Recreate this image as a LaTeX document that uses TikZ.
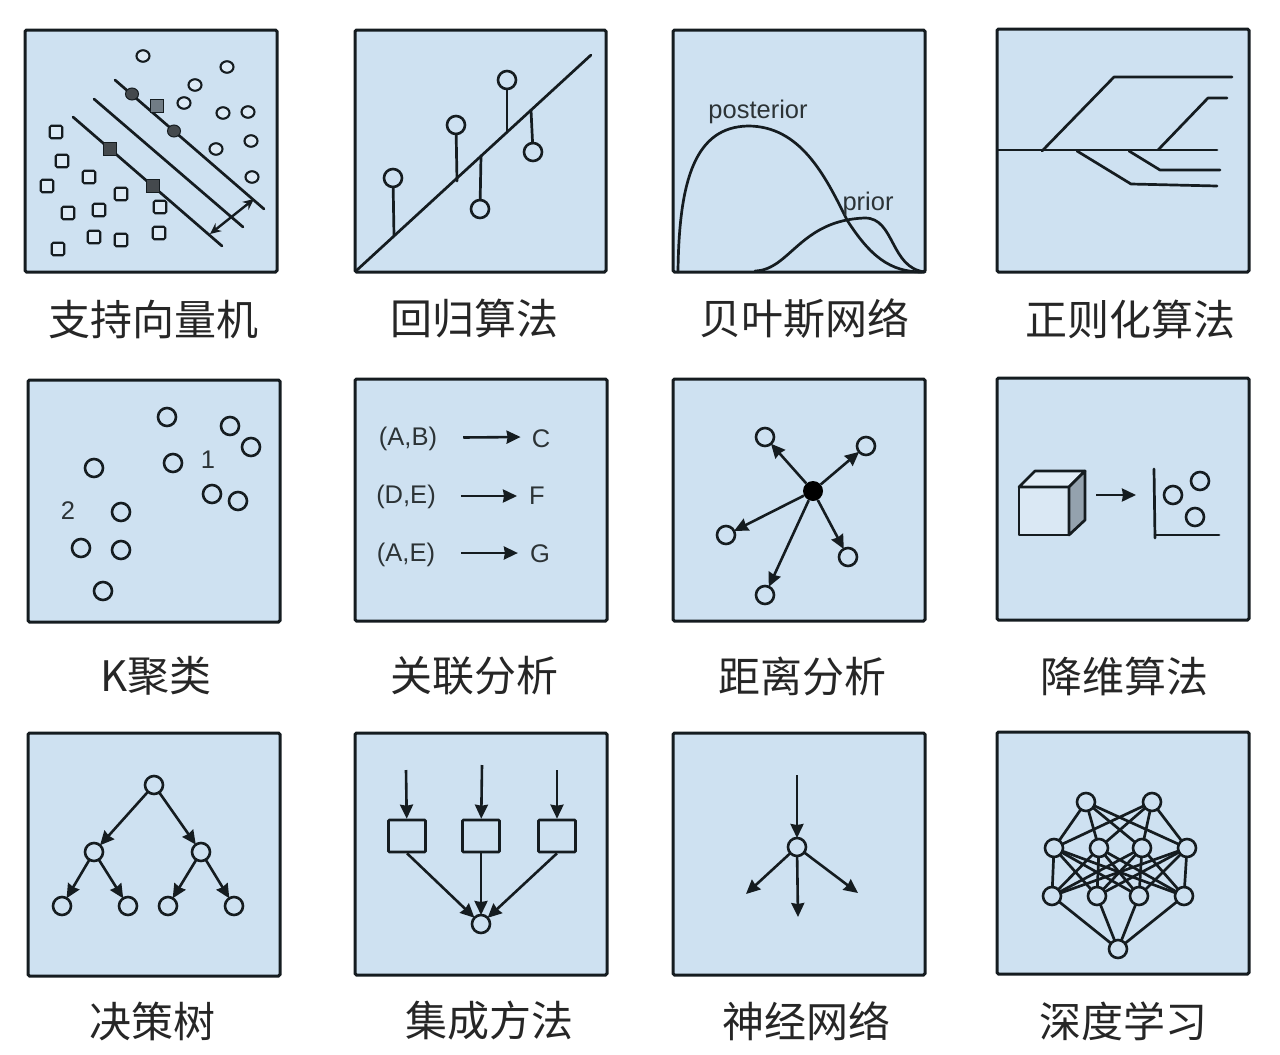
\documentclass[tikz,border=0pt]{standalone}
\usepackage{fontspec}
\setmainfont{Liberation Sans}
\newfontfamily\cjk{Noto Sans CJK SC}
\usetikzlibrary{arrows.meta,shapes.geometric}
\definecolor{pfill}{HTML}{CEE1F1}
\definecolor{ink}{HTML}{151C20}
\tikzset{
  panel/.style={draw=ink,fill=pfill,line width=3pt,rounded corners=1.5pt},
  wire/.style={draw=ink,line width=2.7pt,line cap=round,line join=round},
  arr/.style={draw=ink,line width=2.6pt,-{Stealth[length=14pt,width=13pt,inset=1pt]}},
  dot/.style={circle,draw=ink,line width=2.6pt,inner sep=0pt,minimum size=18pt,outer sep=0pt},
  svmo/.style={ellipse,draw=ink,line width=2.1pt,inner sep=0pt,minimum width=13pt,minimum height=11.5pt,fill=pfill!70!white},
  svms/.style={rectangle,rounded corners=1.5pt,draw=ink,line width=2.1pt,inner sep=0pt,minimum size=12.5pt,fill=pfill!70!white},
  svmfc/.style={ellipse,draw=ink,line width=1pt,fill=ink!80!white,inner sep=0pt,minimum width=13pt,minimum height=12pt},
  svmfs/.style={rectangle,draw=ink,line width=1pt,fill=ink!80!white,inner sep=0pt,minimum size=13pt},
  captxt/.style={inner sep=0pt,font=\cjk\fontsize{42}{46}\selectfont,text=black!85},
  lab/.style={inner sep=0pt,font=\fontsize{25.5}{28}\selectfont,text=ink!90},
  boxn/.style={rectangle,rounded corners=1pt,draw=ink,line width=2.6pt,inner sep=0pt,minimum width=37pt,minimum height=32pt},
}
\begin{document}
\begin{tikzpicture}[x=1pt,y=-1pt]
\useasboundingbox (0,0) rectangle (1280,1055);
% panels
\foreach \a/\b/\c/\d in {25/30/277/272,355/30/606/272,673/30/925/272,997/29/1249/272,
  28/380/280/622,355/379/607/621,673/379/925/621,997/378/1249/620,
  28/733/280/976,355/733/607/975,673/733/925/975,997/732/1249/974}
  \draw[panel] (\a,\b) rectangle (\c,\d);
% captions
\node[captxt] (c1) at (153,319) {支持向量机};
\node[captxt] (c2) at (474,319) {回归算法};
\node[captxt] (c3) at (804,319) {贝叶斯网络};
\node[captxt] (c4) at (1130.5,319) {正则化算法};
\node[captxt] (c5) at (156,676) {K聚类};
\node[captxt] (c6) at (474,676) {关联分析};
\node[captxt] (c7) at (802,676) {距离分析};
\node[captxt] (c8) at (1124,676) {降维算法};
\node[captxt] (c9) at (152,1021) {决策树};
\node[captxt] (c10) at (489,1021) {集成方法};
\node[captxt] (c11) at (806,1021) {神经网络};
\node[captxt] (c12) at (1123,1021) {深度学习};
% --- SVM
\draw[wire] (115,80) -- (264,209);
\draw[wire] (94,99) -- (243,227);
\draw[wire] (73,117) -- (222,246);
\draw[draw=ink,line width=2.4pt,{Stealth[length=11pt,width=10pt]}-{Stealth[length=11pt,width=10pt]}] (254,199) -- (210,234);
\foreach \x/\y [count=\i] in {143/56,227/67,195/85,184/103,223/113,248/112,251/141,216/149,252/177}
  \node[svmo] (so\i) at (\x,\y) {};
\foreach \x/\y [count=\i] in {56/132,62/161,89/177,47/186,121/194,160/207,68/213,99/210,94/237,121/240,159/233,58/249}
  \node[svms] (ss\i) at (\x,\y) {};
\node[svmfc] (sf1) at (132,94) {};
\node[svmfc] (sf2) at (174,131) {};
\node[svmfs] (sq1) at (110,149) {};
\node[svmfs] (sq2) at (153,186) {};
\node[rectangle,draw=ink,line width=1.5pt,fill=black!45!pfill,inner sep=0pt,minimum size=13pt] (sg) at (157,106) {};
% --- regression
\draw[wire] (357,270) -- (591,55);
\node[dot] (r1) at (393,178) {};
\node[dot] (r2) at (456,125) {};
\node[dot] (r3) at (507,80) {};
\node[dot] (r4) at (533,152) {};
\node[dot] (r5) at (480,209) {};
\coordinate (rp1) at (394,236);
\coordinate (rp2) at (457,181);
\coordinate (rp3) at (507,132);
\coordinate (rp4) at (531,110);
\coordinate (rp5) at (481,156);
\foreach \i in {1,...,5} \draw[wire] (r\i) -- (rp\i);
% --- bayes
\draw[wire] (678,272) .. controls (679,180) and (695,127) .. (748,126)
  .. controls (800,126) and (825,175) .. (847,220)
  .. controls (870,256) and (890,272) .. (922,272);
\draw[wire] (755,271) .. controls (790,270) and (800,220) .. (865,218)
  .. controls (895,218) and (890,268) .. (925,272);
\node[lab] (b1) at (758,112) {posterior};
\node[lab] (b2) at (868,204) {prior};
% --- regularization
\draw[wire] (998,150) -- (1217,150);
\draw[wire] (1042,151) -- (1114,77) -- (1232,77);
\draw[wire] (1158,150) -- (1208,98) -- (1227,98);
\draw[wire] (1129,151) -- (1160,170) -- (1220,170);
\draw[wire] (1077,151) -- (1131,184) -- (1217,186);
% --- k-means
\foreach \x/\y [count=\i] in {167/417,230/426,251/447,173/463,212/494,238/501,94/468,121/512,81/548,121/550,103/591}
  \node[dot] (k\i) at (\x,\y) {};
\node[lab] (k1l) at (208,460) {1};
\node[lab] (k2l) at (68,511) {2};
% --- association
\node[lab] (a1) at (408,439) {(A,B)};
\node[lab] (a2) at (406,497) {(D,E)};
\node[lab] (a3) at (406,555) {(A,E)};
\node[lab] (t1) at (541,439) {C};
\node[lab] (t2) at (537,496) {F};
\node[lab] (t3) at (540,554) {G};
\draw[arr] ([xshift=26pt,yshift=1.5pt]a1.east) -- ([xshift=-11pt,yshift=2pt]t1.west);
\draw[arr] ([xshift=25pt,yshift=1pt]a2.east) -- ([xshift=-12pt]t2.west);
\draw[arr] ([xshift=26pt,yshift=2pt]a3.east) -- ([xshift=-12pt,yshift=1pt]t3.west);
% --- distance
\node[circle,fill=black,inner sep=0pt,minimum size=20pt] (dc) at (813,491) {};
\foreach \x/\y [count=\i] in {765/437,866/446,726/535,848/557,765/595}{
  \node[dot] (d\i) at (\x,\y) {};
  \draw[arr] (dc) -- (d\i);
}
% --- dimensionality reduction
\draw[wire,fill=pfill!75!white] (1019,487) rectangle (1069,535);
\draw[wire,fill=pfill!60!white] (1019,487) -- (1035,471) -- (1085,471) -- (1069,487) -- cycle;
\draw[wire,fill=black!28!pfill] (1069,487) -- (1085,471) -- (1085,520) -- (1069,535) -- cycle;
\coordinate (ds) at (1096,495);
\coordinate (de) at (1136,495);
\draw[arr] (ds) -- (de);
\draw[wire] (1154,469) -- (1155,538);
\draw[wire] (1155,535) -- (1219,535);
\node[dot] (p1) at (1173,495) {};
\node[dot] (p2) at (1200,481) {};
\node[dot] (p3) at (1195,517) {};
% --- decision tree
\node[dot] (n0) at (154,785) {};
\node[dot] (n1) at (94,852) {};
\node[dot] (n2) at (201,852) {};
\node[dot] (n3) at (62,906) {};
\node[dot] (n4) at (128,906) {};
\node[dot] (n5) at (168,906) {};
\node[dot] (n6) at (234,906) {};
\foreach \u/\v in {n0/n1,n0/n2,n1/n3,n1/n4,n2/n5,n2/n6} \draw[arr] (\u) -- (\v);
% --- ensemble
\node[boxn] (e1) at (407,836) {};
\node[boxn] (e2) at (481,836) {};
\node[boxn] (e3) at (557,836) {};
\node[dot] (eo) at (481,924) {};
\coordinate (ei1) at (406,770);
\coordinate (ei2) at (482,765);
\coordinate (ei3) at (557,770);
\foreach \i in {1,2,3}{
  \draw[arr] (ei\i) -- (e\i);
  \draw[arr] (e\i.south) -- (eo);
}
% --- neural
\node[dot] (m) at (797,847) {};
\coordinate (m0) at (797,775);
\coordinate (m1) at (746,894);
\coordinate (m2) at (798,917);
\coordinate (m3) at (858,893);
\draw[arr] (m0) -- (m);
\foreach \i in {1,2,3} \draw[arr] (m) -- (m\i);
% --- deep
\foreach \x/\y [count=\i] in {1086/802,1152/802} \node[dot] (ta\i) at (\x,\y) {};
\foreach \x/\y [count=\i] in {1054/848,1099/848,1142/848,1187/848} \node[dot] (tb\i) at (\x,\y) {};
\foreach \x/\y [count=\i] in {1052/896,1097/896,1139/896,1184/896} \node[dot] (tc\i) at (\x,\y) {};
\node[dot] (td) at (1118,949) {};
\foreach \i in {1,2} \foreach \j in {1,...,4} \draw[wire] (ta\i) -- (tb\j);
\foreach \i in {1,...,4} \foreach \j in {1,...,4} \draw[wire] (tb\i) -- (tc\j);
\foreach \i in {1,...,4} \draw[wire] (tc\i) -- (td);
\end{tikzpicture}
\end{document}
